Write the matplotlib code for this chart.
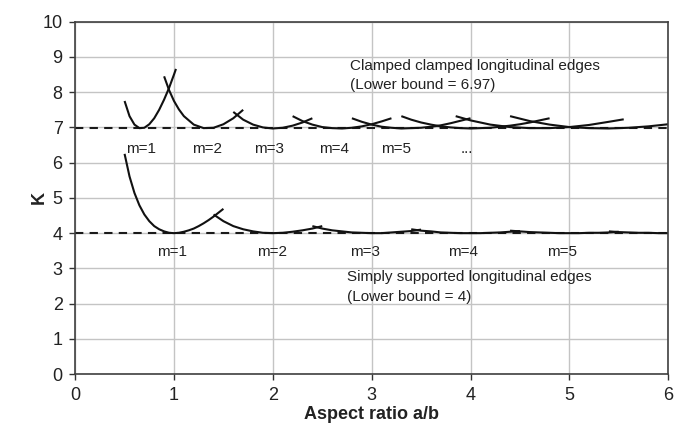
"""
Buckling coefficient K against plate aspect ratio a/b, for clamped and
simply supported longitudinal edges.
"""

import matplotlib.pyplot as plt

plt.rcParams["font.family"] = ["Liberation Sans", "DejaVu Sans"]

# clamped-clamped longitudinal edges, one branch per half-wave number m
cc_m1_x = [0.50, 0.55, 0.60, 0.65, 0.70, 0.75, 0.80, 0.85, 0.90, 0.95, 1.00, 1.02]
cc_m1_k = [7.75, 7.32, 7.08, 6.98, 6.99, 7.09, 7.26, 7.50, 7.79, 8.12, 8.50, 8.66]
cc_m2_x = [0.90, 0.95, 1.00, 1.05, 1.10, 1.20, 1.30, 1.40, 1.50, 1.60, 1.70]
cc_m2_k = [8.45, 8.06, 7.75, 7.51, 7.32, 7.08, 6.98, 6.99, 7.09, 7.26, 7.50]
cc_m3_x = [1.60, 1.70, 1.80, 1.90, 2.00, 2.10, 2.20, 2.30, 2.40]
cc_m3_k = [7.44, 7.22, 7.08, 7.00, 6.97, 6.99, 7.05, 7.14, 7.26]
cc_m4_x = [2.20, 2.30, 2.40, 2.50, 2.60, 2.70, 2.80, 2.90, 3.00, 3.10, 3.20]
cc_m4_k = [7.32, 7.18, 7.08, 7.01, 6.98, 6.97, 6.99, 7.03, 7.09, 7.17, 7.26]
cc_m5_x = [2.80, 2.90, 3.00, 3.10, 3.20, 3.30, 3.40, 3.50, 3.60, 3.70, 3.80, 3.90, 4.00]
cc_m5_k = [7.26, 7.16, 7.08, 7.02, 6.99, 6.97, 6.98, 6.99, 7.02, 7.06, 7.12, 7.19, 7.26]
cc_m6_x = [3.30, 3.40, 3.50, 3.60, 3.70, 3.80, 3.90, 4.00, 4.10, 4.20, 4.30, 4.40,
           4.50, 4.60, 4.70, 4.80]
cc_m6_k = [7.32, 7.22, 7.14, 7.08, 7.03, 7.00, 6.98, 6.97, 6.98, 6.99, 7.02, 7.05,
           7.09, 7.14, 7.20, 7.26]
cc_m7_x = [3.85, 4.00, 4.20, 4.40, 4.60, 4.80, 5.00, 5.20, 5.40, 5.55]
cc_m7_k = [7.32, 7.20, 7.08, 7.01, 6.98, 6.98, 7.01, 7.07, 7.16, 7.23]
cc_m8_x = [4.40, 4.60, 4.80, 5.00, 5.20, 5.40, 5.60, 5.80, 6.00]
cc_m8_k = [7.32, 7.18, 7.08, 7.01, 6.98, 6.97, 6.99, 7.03, 7.09]

# simply supported longitudinal edges
ss_m1_x = [0.50, 0.55, 0.60, 0.65, 0.70, 0.75, 0.80, 0.85, 0.90, 0.95, 1.00,
           1.05, 1.10, 1.15, 1.20, 1.25, 1.30, 1.35, 1.40, 1.45, 1.50]
ss_m1_k = [6.25, 5.61, 5.14, 4.79, 4.53, 4.34, 4.20, 4.11, 4.05, 4.01, 4.00,
           4.01, 4.04, 4.08, 4.13, 4.20, 4.28, 4.37, 4.47, 4.58, 4.69]
ss_m2_x = [1.40, 1.50, 1.60, 1.70, 1.80, 1.90, 2.00, 2.10, 2.20, 2.30, 2.40, 2.50]
ss_m2_k = [4.53, 4.34, 4.20, 4.11, 4.05, 4.01, 4.00, 4.01, 4.04, 4.08, 4.13, 4.20]
ss_m3_x = [2.40, 2.50, 2.60, 2.70, 2.80, 2.90, 3.00, 3.10, 3.20, 3.30, 3.40, 3.50]
ss_m3_k = [4.20, 4.13, 4.08, 4.05, 4.02, 4.01, 4.00, 4.00, 4.02, 4.04, 4.06, 4.10]
ss_m4_x = [3.40, 3.50, 3.60, 3.70, 3.80, 3.90, 4.00, 4.10, 4.20, 4.30, 4.40, 4.50]
ss_m4_k = [4.11, 4.07, 4.05, 4.02, 4.01, 4.00, 4.00, 4.00, 4.01, 4.02, 4.04, 4.06]
ss_m5_x = [4.40, 4.50, 4.60, 4.70, 4.80, 4.90, 5.00, 5.10, 5.20, 5.30, 5.40, 5.50]
ss_m5_k = [4.07, 4.05, 4.03, 4.02, 4.01, 4.00, 4.00, 4.00, 4.01, 4.01, 4.02, 4.04]
ss_m6_x = [5.40, 5.50, 5.60, 5.70, 5.80, 5.90, 6.00]
ss_m6_k = [4.05, 4.03, 4.02, 4.01, 4.01, 4.00, 4.00]

cc_bound = 6.97
ss_bound = 4.0

cc_labels = ["m=1", "m=2", "m=3", "m=4", "m=5", "..."]
cc_label_x = [0.67, 1.33, 1.96, 2.62, 3.25, 3.96]
ss_labels = ["m=1", "m=2", "m=3", "m=4", "m=5"]
ss_label_x = [0.98, 1.99, 2.93, 3.92, 4.93]


def main() -> None:
    fig = plt.figure(figsize=(6.77, 4.34), dpi=100)
    ax = fig.add_axes([0.111, 0.138, 0.876, 0.812])

    ax.grid(True, color="#c4c4c4", linewidth=1.0)
    ax.set_axisbelow(True)

    cc = [(cc_m1_x, cc_m1_k), (cc_m2_x, cc_m2_k), (cc_m3_x, cc_m3_k),
          (cc_m4_x, cc_m4_k), (cc_m5_x, cc_m5_k), (cc_m6_x, cc_m6_k),
          (cc_m7_x, cc_m7_k), (cc_m8_x, cc_m8_k)]
    ss = [(ss_m1_x, ss_m1_k), (ss_m2_x, ss_m2_k), (ss_m3_x, ss_m3_k),
          (ss_m4_x, ss_m4_k), (ss_m5_x, ss_m5_k), (ss_m6_x, ss_m6_k)]

    ax.plot([0, 6], [cc_bound, cc_bound], color="#1a1a1a", lw=1.5,
            linestyle=(0, (4, 3)))
    ax.plot([0, 6], [ss_bound, ss_bound], color="#1a1a1a", lw=1.5,
            linestyle=(0, (4, 3)))
    for x, k in cc + ss:
        ax.plot(x, k, color="#111111", lw=1.5, solid_capstyle="butt")

    for lab, x in zip(cc_labels, cc_label_x):
        ax.text(x, 6.39, lab, ha="center", va="center", fontsize=11,
                color="#222222")
    for lab, x in zip(ss_labels, ss_label_x):
        ax.text(x, 3.47, lab, ha="center", va="center", fontsize=11,
                color="#222222")

    ax.text(2.78, 8.75, "Clamped clamped longitudinal edges", ha="left",
            va="center", fontsize=11, color="#222222")
    ax.text(2.78, 8.2, "(Lower bound = 6.97)", ha="left", va="center",
            fontsize=11, color="#222222")
    ax.text(2.75, 2.75, "Simply supported longitudinal edges", ha="left",
            va="center", fontsize=11, color="#222222")
    ax.text(2.75, 2.19, "(Lower bound = 4)", ha="left", va="center",
            fontsize=11, color="#222222")

    ax.set_xlim(0, 6)
    ax.set_ylim(0, 10)
    ax.set_xticks(range(0, 7))
    ax.set_yticks(range(0, 11))
    ax.tick_params(direction="out", length=4, width=1, color="#333333",
                   labelsize=13, labelcolor="#222222", pad=5)
    for side in ["left", "bottom", "right", "top"]:
        ax.spines[side].set_color("#404040")
        ax.spines[side].set_linewidth(1.2)

    ax.set_xlabel("Aspect ratio a/b", fontsize=13, fontweight="bold",
                  color="#222222", labelpad=2)
    ax.set_ylabel("K", fontsize=13, fontweight="bold", color="#222222",
                  labelpad=-4)

    fig.savefig("out.png", dpi=100)
    plt.close(fig)


if __name__ == "__main__":
    main()
